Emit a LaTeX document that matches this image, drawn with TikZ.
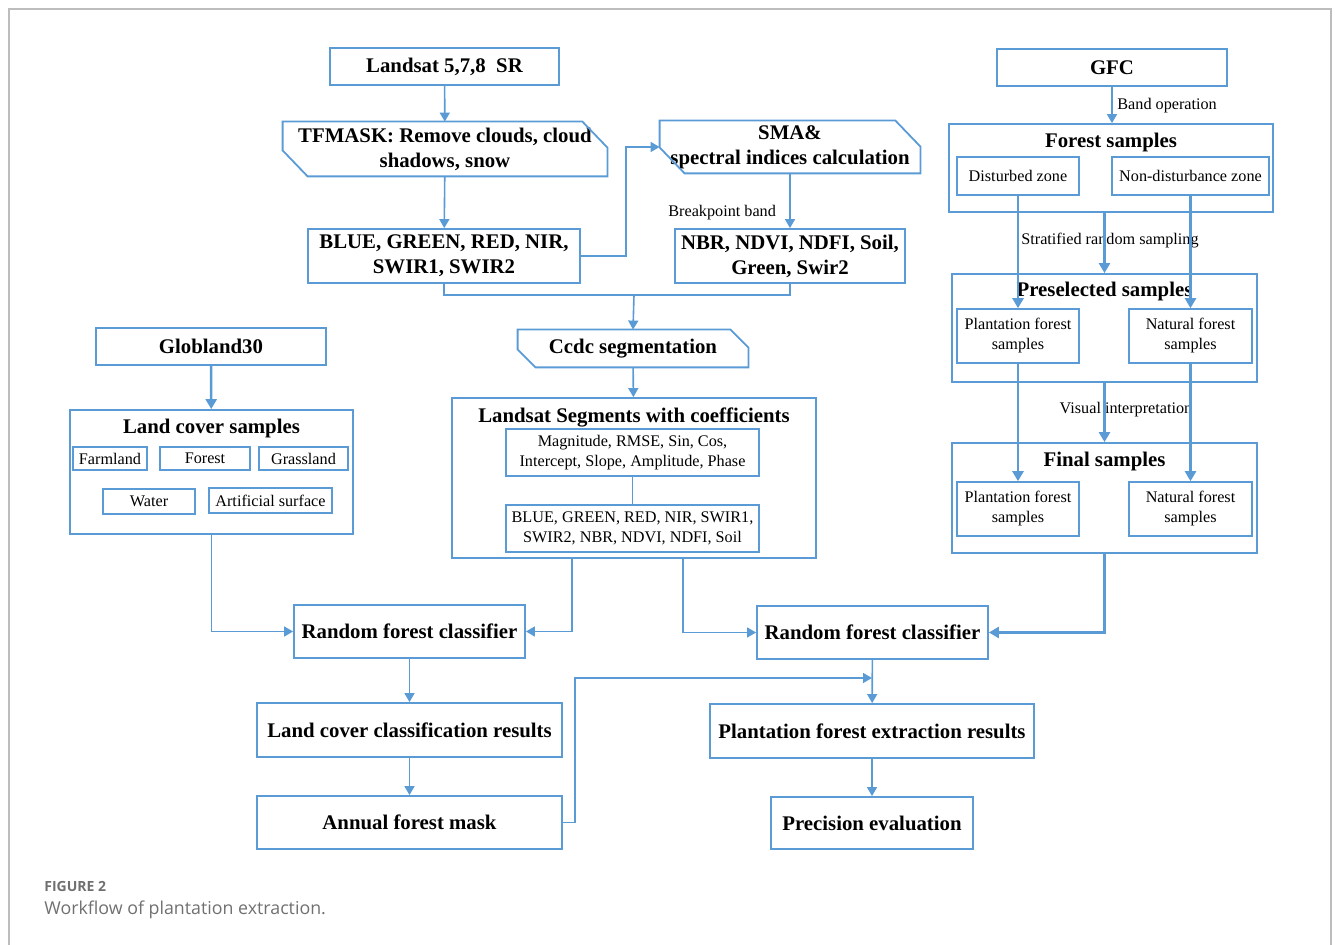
\documentclass[tikz,border=0pt]{standalone}
\usepackage{fontspec}
\setmainfont{Liberation Serif}
\newfontfamily\capfont{Open Sans}
\usetikzlibrary{arrows.meta,calc,positioning}
\definecolor{boxblue}{HTML}{5B9BD5}
\definecolor{rim}{HTML}{BDBDBD}
\definecolor{capgray}{HTML}{707070}
\tikzset{box/.style={draw=boxblue,line width=.9pt,inner sep=0pt,align=center,font=\fontsize{10.4}{12.5}\selectfont\bfseries},cutbox/.style={inner sep=0pt,align=center,font=\fontsize{10.4}{12.5}\selectfont\bfseries},subbox/.style={draw=boxblue,line width=.8pt,inner sep=0pt,align=center,font=\fontsize{8.1}{10}\selectfont},head/.style={inner sep=0pt,font=\fontsize{10.4}{12.5}\selectfont\bfseries},note/.style={inner sep=0pt,font=\fontsize{8.1}{10}\selectfont},flow/.style={-{Triangle[length=4.5pt,width=5pt]},draw=boxblue,line width=.8pt},boldflow/.style={-{Triangle[length=5pt,width=5.5pt]},draw=boxblue,line width=1.25pt},link/.style={draw=boxblue,line width=.8pt}}
\newcommand{\cutframe}[3]{\draw[draw=boxblue,line width=.9pt] (#1.north west) -- ([xshift=-#2]#1.north east) -- ([yshift=-#3]#1.north east) -- (#1.south east) -- ([xshift=#2]#1.south west) -- ([yshift=#3]#1.south west) -- cycle;}

\begin{document}
\begin{tikzpicture}[x=0.5pt,y=-0.5pt]
\useasboundingbox (0,0) rectangle (1335,945);
\draw[rim,line width=1pt] (9,945) -- (9,9) -- (1331,9) -- (1331,945);

\node[box,minimum width=114.5pt,minimum height=18.5pt] (landsat) at (444.5,66.5) {Landsat 5,7,8\ \ SR};
\node[cutbox,minimum width=162pt,minimum height=27pt] (tfmask) at (445,149) {TFMASK: Remove clouds, cloud\\shadows, snow};
\cutframe{tfmask}{12.5pt}{13pt}
\node[box,minimum width=136pt,minimum height=27pt] (rawbands) at (444,256) {BLUE, GREEN, RED, NIR,\\SWIR1, SWIR2};
\node[cutbox,minimum width=130pt,minimum height=26pt] (sma) at (790,147) {SMA\&\\spectral indices calculation};
\cutframe{sma}{12.5pt}{13pt}
\node[box,minimum width=115pt,minimum height=27pt] (indices) at (790,256) {NBR, NDVI, NDFI, Soil,\\Green, Swir2};
\node[note,anchor=west] (bpband) at (668,213) {Breakpoint band};
\coordinate (merge) at (634,295);
\node[cutbox,minimum width=115pt,minimum height=18.5pt] (ccdc) at (633,348.5) {Ccdc segmentation};
\cutframe{ccdc}{9pt}{9pt}
\node[box,minimum width=182pt,minimum height=80pt] (segs) at (634,478) {};
\node[head] (segtitle) at (634,417) {Landsat Segments with coefficients};
\node[subbox,minimum width=126.5pt,minimum height=23.5pt] (coefs) at (632.5,452.5) {Magnitude, RMSE, Sin, Cos,\\Intercept, Slope, Amplitude, Phase};
\node[subbox,minimum width=126.5pt,minimum height=23.5pt] (segbands) at (632.5,528.5) {BLUE, GREEN, RED, NIR, SWIR1,\\SWIR2, NBR, NDVI, NDFI, Soil};

\node[box,minimum width=115pt,minimum height=18.5pt] (globland) at (211,346.5) {Globland30};
\node[box,minimum width=141.5pt,minimum height=62pt] (lcsamp) at (211.5,472) {};
\node[head] (lctitle) at (211.5,429) {Land cover samples};
\node[subbox,minimum width=37pt,minimum height=11.5pt] (farm) at (110,458.5) {Farmland};
\node[subbox,minimum width=45pt,minimum height=11.5pt] (forest) at (205,458.5) {Forest};
\node[subbox,minimum width=44.5pt,minimum height=11.5pt] (grass) at (303.5,458.5) {Grassland};
\node[subbox,minimum width=46pt,minimum height=12.5pt] (water) at (149,501.5) {Water};
\node[subbox,minimum width=61.5pt,minimum height=12.5pt] (artif) at (270.5,500.5) {Artificial surface};

\node[box,minimum width=115.5pt,minimum height=26.5pt] (rfa) at (409.5,631.5) {Random forest classifier};
\node[box,minimum width=152.5pt,minimum height=27pt] (lcres) at (409.5,730) {Land cover classification results};
\node[box,minimum width=152.5pt,minimum height=26.5pt] (mask) at (409.5,822.5) {Annual forest mask};
\node[box,minimum width=115.5pt,minimum height=26.5pt] (rfb) at (872.5,632.5) {Random forest classifier};
\node[box,minimum width=162pt,minimum height=27pt] (pfres) at (872,731) {Plantation forest extraction results};
\node[box,minimum width=101pt,minimum height=26pt] (precis) at (872,823) {Precision evaluation};
\coordinate (meet) at (872,678);

\node[box,minimum width=115pt,minimum height=18.5pt] (gfc) at (1112,67.5) {GFC};
\node[note,anchor=west] (bandop) at (1117,106) {Band operation};
\node[box,minimum width=162pt,minimum height=44pt] (fsamp) at (1111,168) {};
\node[head] (fstitle) at (1111,143) {Forest samples};
\node[subbox,minimum width=61pt,minimum height=19pt] (dist) at (1018,176) {Disturbed zone};
\node[subbox,minimum width=78.5pt,minimum height=19pt] (nondist) at (1190.5,176) {Non-disturbance zone};
\node[note] (strat) at (1110,241) {Stratified random sampling};
\node[box,minimum width=152.5pt,minimum height=54pt] (presel) at (1104.5,328) {};
\node[head] (pstitle) at (1104.5,292) {Preselected samples};
\node[subbox,minimum width=61pt,minimum height=27pt] (ppre) at (1018,336) {Plantation forest\\samples};
\node[subbox,minimum width=61.5pt,minimum height=27pt] (npre) at (1190.5,336) {Natural forest\\samples};
\node[note] (visual) at (1126,410) {Visual interpretation};
\node[box,minimum width=152.5pt,minimum height=55pt] (final) at (1104.5,498) {};
\node[head] (fntitle) at (1104.5,462) {Final samples};
\node[subbox,minimum width=61pt,minimum height=27pt] (pfin) at (1018,509) {Plantation forest\\samples};
\node[subbox,minimum width=61.5pt,minimum height=27pt] (nfin) at (1190.5,509) {Natural forest\\samples};

\node[anchor=base west,inner sep=0pt,text=capgray,font=\capfont\bfseries\fontsize{7}{8}\selectfont] (fignum) at (44,892) {FIGURE 2};
\node[anchor=base west,inner sep=0pt,text=capgray,font=\capfont\fontsize{8.9}{10}\selectfont] (figcap) at (44,915) {Workflow of plantation extraction.};

\draw[flow] (landsat) -- (tfmask);
\draw[flow] (tfmask) -- (rawbands);
\draw[flow] (rawbands.east) -- ++(45,0) |- (sma.west);
\draw[flow] (sma) -- (indices);
\draw[link] (rawbands.south) |- (merge) -| (indices.south);
\draw[flow] (merge) -- (ccdc.north);
\draw[flow] (ccdc) -- (segs);
\draw[link] (coefs) -- (segbands);
\draw[boldflow] (globland) -- (lcsamp);
\draw[flow] (lcsamp.south) |- (rfa.west);
\draw[flow] ([xshift=-31pt]segs.south) |- (rfa.east);
\draw[flow] ([xshift=24.5pt]segs.south) |- (rfb.west);
\draw[flow] (rfa) -- (lcres);
\draw[flow] (lcres) -- (mask);
\draw[flow] (mask.east) -- ++(12,0) |- (meet);
\draw[flow] (rfb) -- (pfres);
\draw[flow] (pfres) -- (precis);
\draw[flow] (gfc.south) -- (gfc.south |- fsamp.north);
\draw[boldflow] (dist) -- (ppre);
\draw[boldflow] (nondist.south) -- (npre.north);
\draw[boldflow] (fsamp.south -| presel.north) -- (presel.north);
\draw[boldflow] (ppre) -- (pfin);
\draw[boldflow] (npre) -- (nfin);
\draw[boldflow] (presel) -- (final);
\draw[boldflow] (final.south) |- (rfb.east);
\end{tikzpicture}
\end{document}
